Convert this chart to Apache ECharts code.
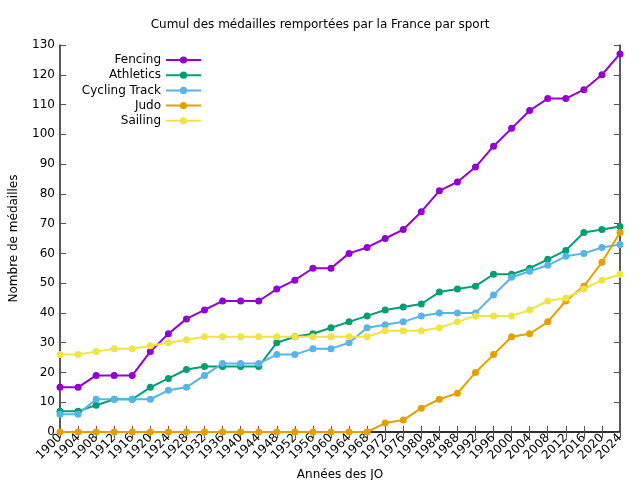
<!DOCTYPE html>
<html><head><meta charset="utf-8">
<script src="https://cdn.jsdelivr.net/npm/echarts@6/dist/echarts.min.js"></script>
<style>html,body{margin:0;padding:0;background:#fff}#c{width:640px;height:480px}</style>
</head><body><div id="c"></div>
<script>
const years = ['1900','1904','1908','1912','1916','1920','1924','1928','1932','1936','1940','1944','1948','1952','1956','1960','1964','1968','1972','1976','1980','1984','1988','1992','1996','2000','2004','2008','2012','2016','2020','2024'];
const fencing   = [15,15,19,19,19,27,33,38,41,44,44,44,48,51,55,55,60,62,65,68,74,81,84,89,96,102,108,112,112,115,120,127];
const athletics = [7,7,9,11,11,15,18,21,22,22,22,22,30,32,33,35,37,39,41,42,43,47,48,49,53,53,55,58,61,67,68,69];
const cycling   = [6,6,11,11,11,11,14,15,19,23,23,23,26,26,28,28,30,35,36,37,39,40,40,40,46,52,54,56,59,60,62,63];
const judo      = [0,0,0,0,0,0,0,0,0,0,0,0,0,0,0,0,0,0,3,4,8,11,13,20,26,32,33,37,44,49,57,67];
const sailing   = [26,26,27,28,28,29,30,31,32,32,32,32,32,32,32,32,32,32,34,34,34,35,37,39,39,39,41,44,45,48,51,53];
const seriesNames = ['Fencing','Athletics','Cycling Track','Judo','Sailing'];
const seriesData = [fencing, athletics, cycling, judo, sailing];
const colors = ['#9400d3','#009e73','#56b4e9','#e69f00','#f0e442'];

const FONT = 'DejaVu Sans';
const FS = 12;
const chart = echarts.init(document.getElementById('c'), null, {renderer:'canvas'});
const tickStyle = {show:true, inside:true, length:6, lineStyle:{color:'#555', width:1}};
const lineStyle = {show:true, lineStyle:{color:'#222', width:1.5}};
chart.setOption({
  animation:false,
  textStyle:{fontFamily:FONT},
  title:{text:'Cumul des médailles remportées par la France par sport', left:'center', top:14,
    textStyle:{fontFamily:FONT, fontSize:FS, fontWeight:'normal', color:'#000'}},
  grid:{left:60, right:20, top:45, bottom:48, containLabel:false, outerBoundsMode:'none'},
  legend:{
    orient:'vertical', align:'right', right:433, top:49,
    itemWidth:35, itemHeight:9, itemGap:3.2,
    textStyle:{fontFamily:FONT, fontSize:FS, color:'#000'},
    data:seriesNames
  },
  xAxis:[{
    type:'category', data:years, boundaryGap:false,
    name:'Années des JO', nameLocation:'middle', nameGap:33,
    nameTextStyle:{fontFamily:FONT, fontSize:FS, color:'#000'},
    axisLine:lineStyle, axisTick:Object.assign({interval:0}, tickStyle),
    axisLabel:{interval:0, rotate:45, margin:4, fontFamily:FONT, fontSize:FS, color:'#000', hideOverlap:false},
    splitLine:{show:false}
  },{
    type:'category', data:years, boundaryGap:false, position:'top',
    axisLine:lineStyle, axisTick:Object.assign({interval:0}, tickStyle),
    axisLabel:{show:false}, splitLine:{show:false}
  }],
  yAxis:[{
    type:'value', min:0, max:130, interval:10,
    name:'Nombre de médailles', nameLocation:'middle', nameGap:40,
    nameTextStyle:{fontFamily:FONT, fontSize:FS, color:'#000'},
    axisLine:lineStyle, axisTick:tickStyle,
    axisLabel:{margin:5, fontFamily:FONT, fontSize:FS, color:'#000'},
    splitLine:{show:false}
  },{
    type:'value', min:0, max:130, interval:10, position:'right',
    axisLine:lineStyle, axisTick:tickStyle,
    axisLabel:{show:false}, splitLine:{show:false}
  }],
  series: seriesNames.map((n,i)=>({
    name:n, type:'line', data:seriesData[i],
    symbol:'circle', symbolSize:7, showSymbol:true,
    lineStyle:{color:colors[i], width:2},
    itemStyle:{color:colors[i]},
    clip:false
  }))
});
</script></body></html>
